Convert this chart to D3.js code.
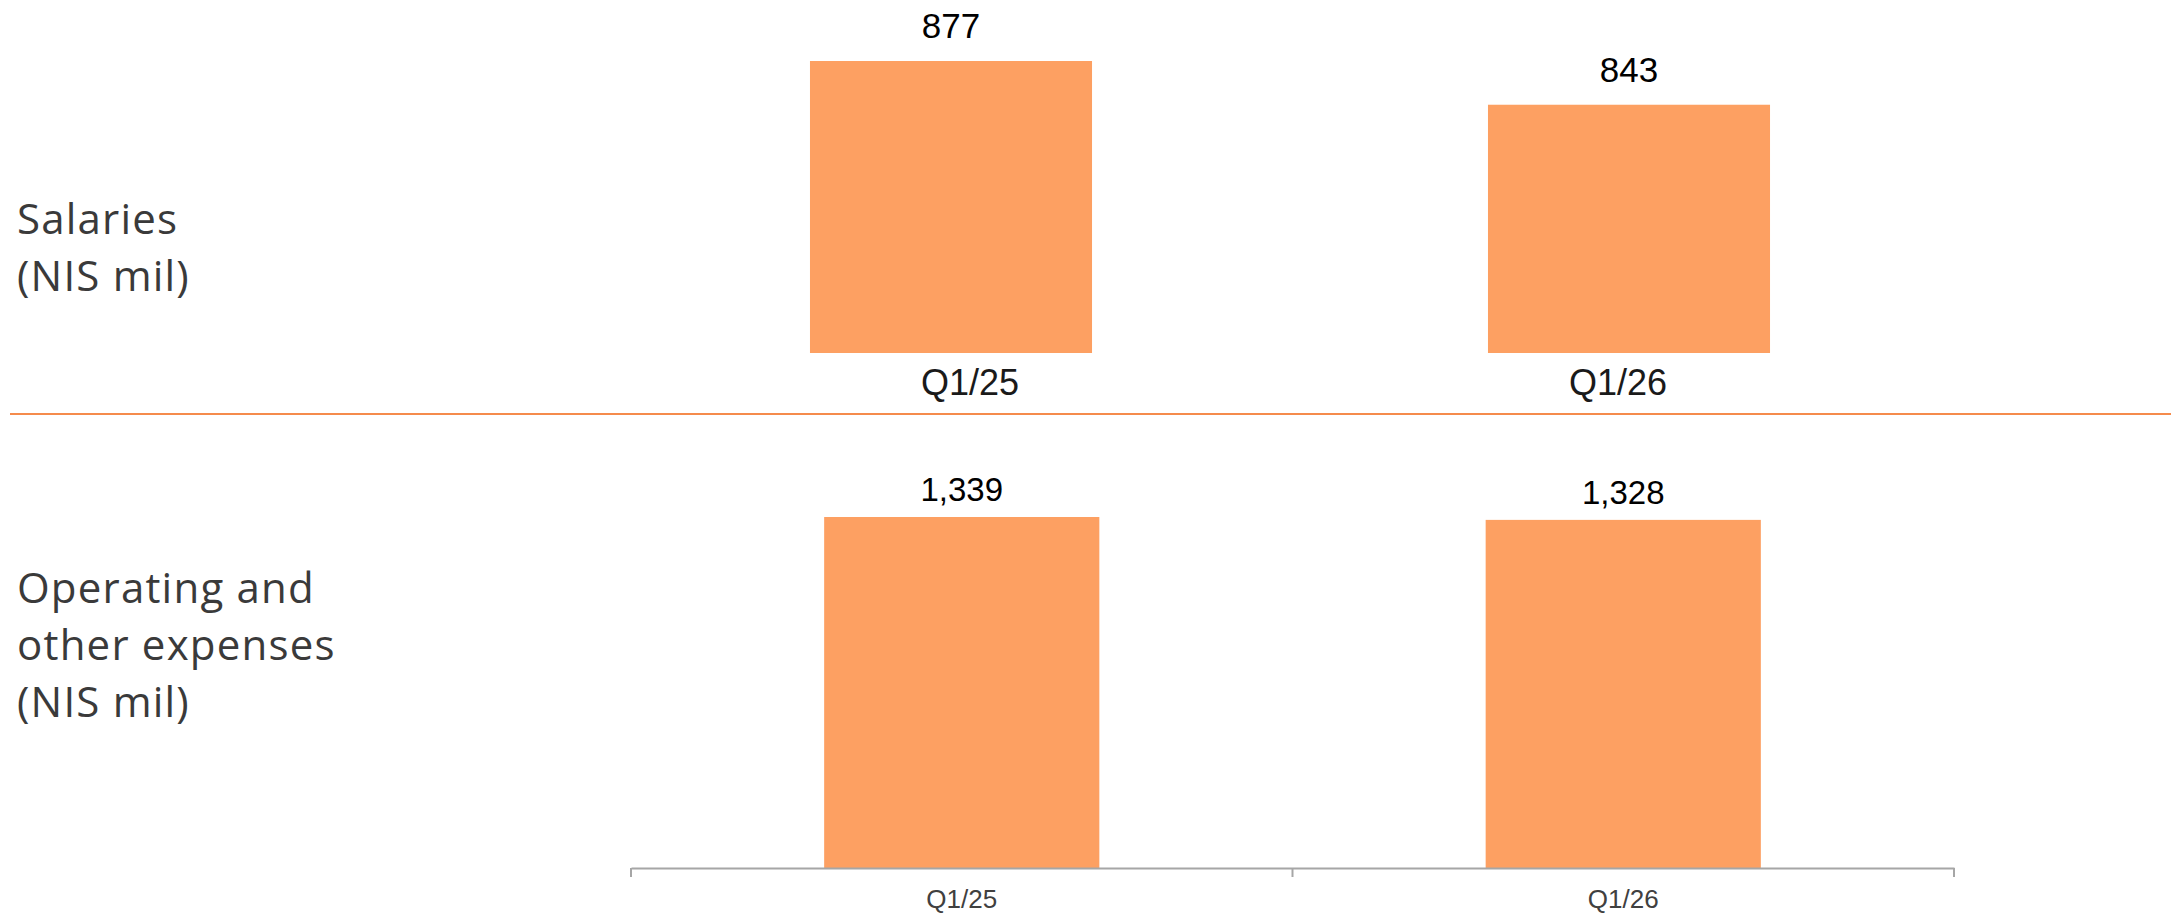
<!DOCTYPE html>
<html>
<head>
<meta charset="utf-8">
<script src="https://cdn.jsdelivr.net/npm/d3@7"></script>
<style>
  html, body { margin: 0; padding: 0; background: #fff; }
  svg { display: block; }
</style>
</head>
<body>
<div id="chart"></div>
<script>
// values
var quarters = ["Q1/25", "Q1/26"];
var salaries = [877, 843];
var operating = [1339, 1328];
var salariesLabel = ["Salaries", "(NIS mil)"];
var operatingLabel = ["Operating and", "other expenses", "(NIS mil)"];

var svgWidth = 2178;
var svgHeight = 917;
var barColor = "#fda062";

var svg = d3.select("#chart")
    .append("svg")
    .attr("width", svgWidth)
    .attr("height", svgHeight);

// ---- top panel: salaries
var xTop = d3.scaleBand()
    .domain(quarters)
    .range([612, 1968])
    .padding(0);

// the category labels of the top panel sit slightly closer together than the bars
var xTopLabels = d3.scaleBand()
    .domain(quarters)
    .range([646, 1942])
    .padding(0);

var yTop = d3.scaleLinear()
    .domain([650, 877])
    .range([353, 61]);

var topBarW = xTop.bandwidth() * 0.416;

svg.append("g").selectAll("rect")
    .data(salaries)
    .enter()
    .append("rect")
    .attr("x", (d, i) => xTop(quarters[i]) + xTop.bandwidth() / 2 - topBarW / 2)
    .attr("y", d => yTop(d))
    .attr("width", topBarW)
    .attr("height", d => yTop(650) - yTop(d))
    .attr("fill", barColor);

svg.append("g").selectAll("text")
    .data(salaries)
    .enter()
    .append("text")
    .attr("x", (d, i) => xTop(quarters[i]) + xTop.bandwidth() / 2)
    .attr("y", d => yTop(d) - 23)
    .attr("text-anchor", "middle")
    .style("font-family", "'Liberation Sans', Arial, sans-serif")
    .style("font-size", "35px")
    .style("fill", "#000")
    .text(d => d3.format(",")(d));

var topAxis = svg.append("g")
    .attr("transform", "translate(0, 353)")
    .call(d3.axisBottom(xTopLabels).tickSize(0).tickPadding(16));
topAxis.select(".domain").remove();
topAxis.selectAll("text")
    .style("font-family", "'Liberation Sans', Arial, sans-serif")
    .style("font-size", "36px")
    .style("fill", "#1a1a1a");

// separator
svg.append("line")
    .attr("x1", 10).attr("x2", 2171)
    .attr("y1", 414).attr("y2", 414)
    .attr("stroke", "#f58b4c")
    .attr("stroke-width", 2);

// ---- bottom panel: operating and other expenses
var xBot = d3.scaleBand()
    .domain(quarters)
    .range([631, 1954])
    .padding(0);

var yBot = d3.scaleLinear()
    .domain([0, 1339])
    .range([868, 517]);

var botBarW = xBot.bandwidth() * 0.416;

svg.append("g").selectAll("rect")
    .data(operating)
    .enter()
    .append("rect")
    .attr("x", (d, i) => xBot(quarters[i]) + xBot.bandwidth() / 2 - botBarW / 2)
    .attr("y", d => yBot(d))
    .attr("width", botBarW)
    .attr("height", d => yBot(0) - yBot(d))
    .attr("fill", barColor);

svg.append("g").selectAll("text")
    .data(operating)
    .enter()
    .append("text")
    .attr("x", (d, i) => xBot(quarters[i]) + xBot.bandwidth() / 2)
    .attr("y", d => yBot(d) - 16)
    .attr("text-anchor", "middle")
    .style("font-family", "'Liberation Sans', Arial, sans-serif")
    .style("font-size", "33px")
    .style("fill", "#000")
    .text(d => d3.format(",")(d));

var botAxis = svg.append("g")
    .attr("transform", "translate(0, 868)")
    .call(d3.axisBottom(xBot).tickSize(0).tickPadding(22).tickSizeOuter(0));
botAxis.select(".domain")
    .attr("stroke", "#a6a6a6")
    .attr("stroke-width", 2);
botAxis.selectAll("text")
    .style("font-family", "'Liberation Sans', Arial, sans-serif")
    .style("font-size", "26px")
    .style("fill", "#404040");

// category boundary ticks
var bounds = quarters.map(q => xBot(q)).concat([xBot.range()[1]]);
botAxis.selectAll(".bound")
    .data(bounds)
    .enter()
    .append("line")
    .attr("class", "bound")
    .attr("x1", d => d).attr("x2", d => d)
    .attr("y1", 0).attr("y2", 9)
    .attr("stroke", "#a6a6a6")
    .attr("stroke-width", 2);

// ---- row titles on the left
function rowTitle(lines, firstBaseline) {
    svg.append("text")
        .attr("x", 17)
        .attr("y", firstBaseline)
        .style("font-family", "'Open Sans', sans-serif")
        .style("font-weight", 400)
        .style("font-size", "42px")
        .style("letter-spacing", "1.2px")
        .style("fill", "#3a3a3a")
        .selectAll("tspan")
        .data(lines)
        .enter()
        .append("tspan")
        .attr("x", 17)
        .attr("dy", (d, i) => i === 0 ? 0 : 57)
        .text(d => d);
}

rowTitle(salariesLabel, 234);
rowTitle(operatingLabel, 603);
</script>
</body>
</html>
